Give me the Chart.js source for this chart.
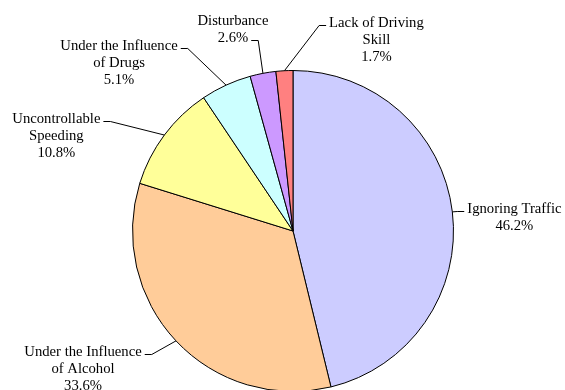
<!DOCTYPE html>
<html>
<head>
<meta charset="utf-8">
<script src="https://cdn.jsdelivr.net/npm/chart.js@4/dist/chart.umd.min.js"></script>
<style>
    html, body { margin: 0; padding: 0; background: #fff; overflow: hidden; }
    #wrap { width: 565px; height: 400px; }
</style>
</head>
<body>
<div id="wrap"><canvas id="causes" width="565" height="400"></canvas></div>
<script>
const causes = [
    'Ignoring Traffic',
    ['Under the Influence', 'of Alcohol'],
    ['Uncontrollable', 'Speeding'],
    ['Under the Influence', 'of Drugs'],
    'Disturbance',
    ['Lack of Driving', 'Skill']
];
const shares = [46.2, 33.6, 10.8, 5.1, 2.6, 1.7];
const sliceColors = ['#CCCCFF', '#FFCC99', '#FFFF99', '#CCFFFF', '#CC99FF', '#FF8080'];

// label placement relative to the point where the leader touches the pie
const labelOffsets = [[62, 1], [-93, 15], [-108, -12], [-107, -35], [-30, -48], [92, -44]];
// which text line the leader attaches to
const leaderLine = [0, 0, 0, 0, 1, 0];

const LINE_HEIGHT = 17;

const leaderLabels = {
    id: 'leaderLabels',
    afterDatasetsDraw(chart) {
        const ctx = chart.ctx;
        const arcs = chart.getDatasetMeta(0).data;

        ctx.save();
        ctx.font = '14.7px "Liberation Serif"';
        ctx.fillStyle = '#000';
        ctx.strokeStyle = '#000';
        ctx.lineWidth = 1;
        ctx.textAlign = 'center';
        ctx.textBaseline = 'alphabetic';

        arcs.forEach((arc, index) => {
            const mid = (arc.startAngle + arc.endAngle) / 2;
            const ex = arc.x + Math.cos(mid) * arc.outerRadius;
            const ey = arc.y + Math.sin(mid) * arc.outerRadius;

            const name = causes[index];
            const lines = (Array.isArray(name) ? name : [name]).concat(shares[index].toFixed(1) + '%');
            const [dx, dy] = labelOffsets[index];
            const cx = ex + dx;
            const top = ey + dy;

            lines.forEach((line, i) => ctx.fillText(line, cx, top + i * LINE_HEIGHT));

            // leader line: pie edge -> elbow -> short tick next to the text
            const li = leaderLine[index];
            const w = ctx.measureText(lines[li]).width;
            const ly = Math.round(top + li * LINE_HEIGHT - 2) + 0.5;
            const side = dx > 0 ? -1 : 1;
            const ax = cx + side * (w / 2 + 3);
            const bx = ax + side * 7;

            ctx.beginPath();
            ctx.moveTo(ex, ey);
            ctx.lineTo(bx, ly);
            ctx.lineTo(ax, ly);
            ctx.stroke();
        });

        ctx.restore();
    }
};

new Chart(
    document.getElementById('causes'),
    {
        type: 'pie',
        plugins: [leaderLabels],
        data: {
            labels: causes,
            datasets: [
                {
                    data: shares,
                    backgroundColor: sliceColors,
                    borderColor: '#000',
                    borderWidth: 1
                }
            ]
        },
        options: {
            responsive: false,
            animation: false,
            layout: {
                padding: { left: 132, right: 111, top: 70, bottom: 8 }
            },
            plugins: {
                legend: { display: false },
                tooltip: { enabled: false }
            }
        }
    }
);
</script>
</body>
</html>
